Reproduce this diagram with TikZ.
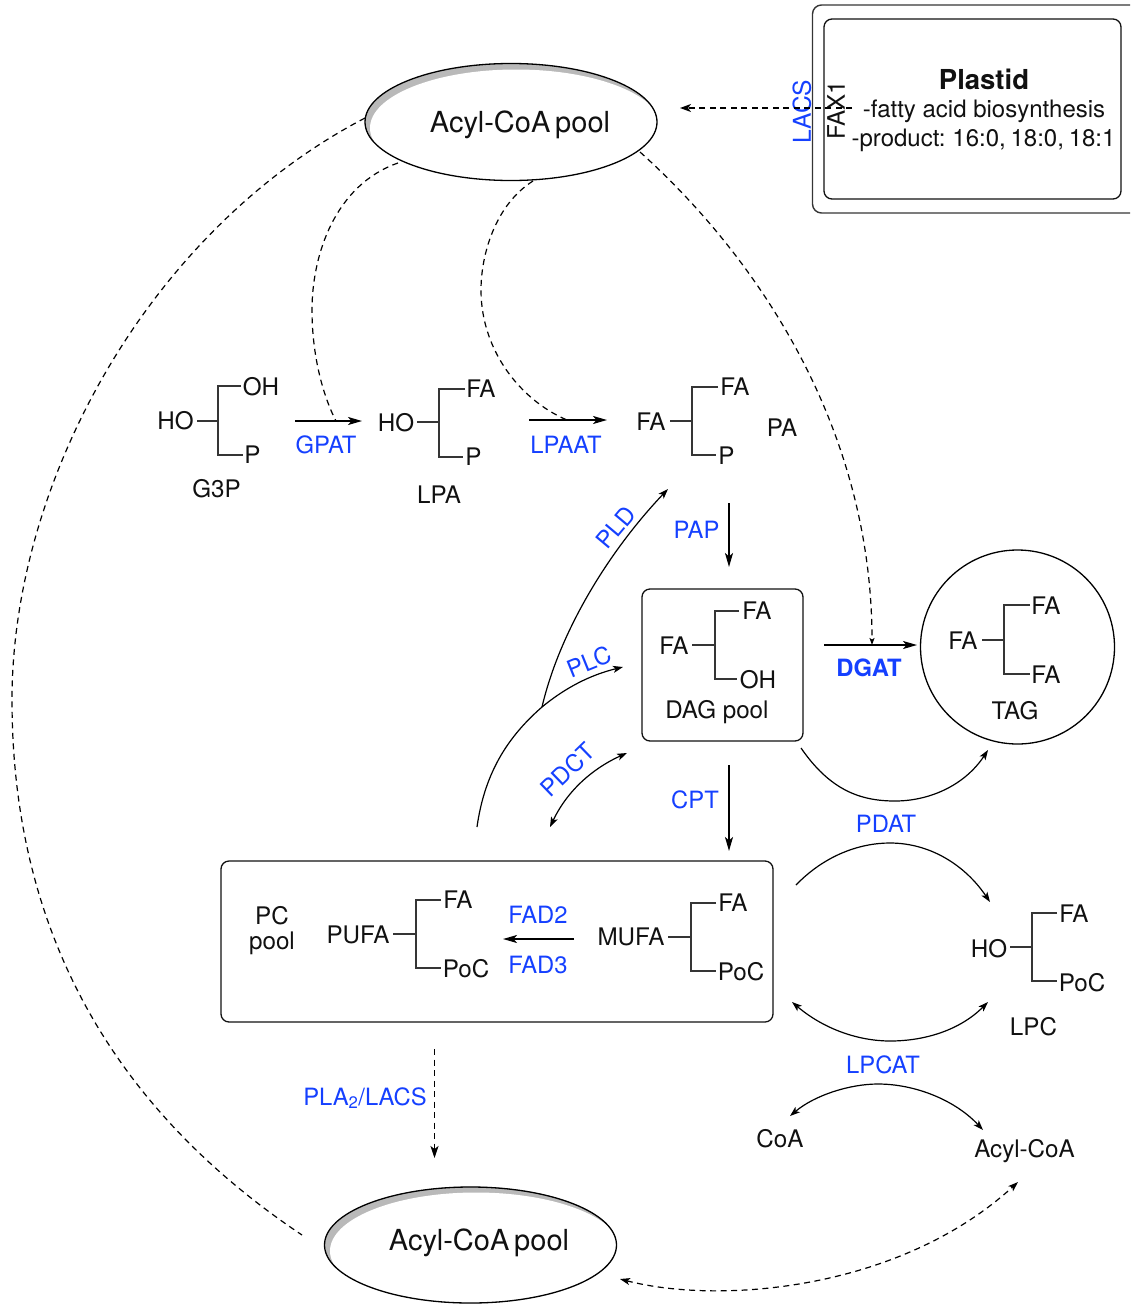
\documentclass[tikz,border=0pt]{standalone}
\usepackage{fontspec}
\setmainfont{TeX Gyre Heros}
\usetikzlibrary{arrows.meta,shapes.geometric}
\definecolor{enz}{HTML}{1540FF}
\definecolor{ink}{HTML}{111111}
\tikzset{
  txt/.style={inner sep=0pt,text=ink,font=\fontsize{24.2}{26}\selectfont,align=center},
  enzy/.style={inner sep=0pt,text=enz,font=\fontsize{23.8}{26}\selectfont},
  pooltxt/.style={inner sep=0pt,text=ink,font=\fontsize{29}{32}\selectfont},
  bond/.style={line width=1.2pt,draw=ink!85!white,line join=miter},
  thick arrow/.style={line width=1.9pt,draw=black,-{Stealth[length=14pt,width=8pt,inset=3.5pt]}},
  thin arrow/.style={line width=1.2pt,draw=black,-{Stealth[length=10pt,width=7pt,inset=2.5pt]}},
  both arrow/.style={line width=1.2pt,draw=black,{Stealth[length=10pt,width=7pt,inset=2.5pt]}-{Stealth[length=10pt,width=7pt,inset=2.5pt]}},
  dash line/.style={line width=1.2pt,draw=black,dash pattern=on 6pt off 4.5pt},
  box/.style={draw=ink,line width=1.3pt,rounded corners=8pt,inner sep=0pt},
}
\newcommand{\fork}[8]{%
  \coordinate (#1) at (#2,#5);
  \draw[bond] (#7,#3) -- (#2,#3) -- (#2,#4) -- (#8,#4);
  \draw[bond] (#6,#5) -- (#1);
}
\newcommand{\pool}[2]{%
  \begin{scope}
    \clip (#1,#2) ellipse [x radius=146, y radius=58.5];
    \fill[gray!55!white] (#1,#2) ellipse [x radius=146, y radius=58.5];
    \fill[white] (#1+5,#2+6) ellipse [x radius=146, y radius=58.5];
  \end{scope}
}
\begin{document}
\begin{tikzpicture}[x=1pt,y=-1pt]
\useasboundingbox (0,0) rectangle (1130,1304);

% plastid
\draw[line width=1.4pt,draw=ink!85!white,rounded corners=9pt] (1130,5) -- (812.5,5) -- (812.5,213) -- (1130,213);
\node[box,minimum width=297pt,minimum height=180pt] (plastidbox) at (972.5,109) {};
\node[pooltxt,font=\bfseries\fontsize{27.5}{32}\selectfont] (plastid) at (984,79.5) {Plastid};
\node[txt,font=\fontsize{24}{28}\selectfont] (fab) at (984,111) {-fatty acid biosynthesis};
\node[txt,font=\fontsize{24}{28}\selectfont] (prod) at (983.5,140) {\spaceskip=0.2em\relax -product: 16:0, 18:0, 18:1};
\node[enzy,rotate=90,font=\fontsize{24.6}{26}\selectfont] (lacs) at (802,111.5) {LACS};
\node[txt,rotate=90] (fax) at (836,110) {FAX1};

% pools
\pool{511}{122}
\pool{471}{1245}
\node[ellipse,draw=black,line width=1.3pt,minimum width=292pt,minimum height=117pt,inner sep=0pt] (poolA) at (511,122) {};
\node[pooltxt] (poolAt) at (520,125) {\spaceskip=0.17em\relax Acyl-CoA pool};
\node[ellipse,draw=black,line width=1.3pt,minimum width=292pt,minimum height=116pt,inner sep=0pt] (poolB) at (470.5,1245) {};
\node[pooltxt] (poolBt) at (479,1243) {\spaceskip=0.17em\relax Acyl-CoA pool};

% molecules
\fork{g3p}{218}{386}{455}{421}{197}{241}{243}
\node[txt] (g1) at (175.5,421) {HO};
\node[txt] (g2) at (261,387) {OH};
\node[txt] (g3) at (252.5,455) {P};
\node[txt] (g3pl) at (216.5,489) {G3P};

\fork{lpa}{439}{389}{457}{422}{417}{465}{463}
\node[txt] (l1) at (396,423) {HO};
\node[txt] (l2) at (481,389) {FA};
\node[txt] (l3) at (473.5,457) {P};
\node[txt] (lpal) at (439,495) {LPA};

\fork{pa}{692}{387}{455}{421}{670}{718}{716}
\node[txt] (p1) at (651,422) {FA};
\node[txt] (p2) at (735,387) {FA};
\node[txt] (p3) at (726.5,456) {P};
\node[txt] (pal) at (782,427.5) {PA};

\node[box,minimum width=161pt,minimum height=152pt] (dagbox) at (722.5,665) {};
\fork{dag}{715}{611}{679}{645}{692}{739}{737}
\node[txt] (d1) at (674,646) {FA};
\node[txt] (d2) at (757,611) {FA};
\node[txt] (d3) at (758,680) {OH};
\node[txt] (dagl) at (717,712) {DAG pool};

\node[circle,draw=black,line width=1.3pt,minimum size=194pt,inner sep=0pt] (tagc) at (1017.5,647) {};
\fork{tag}{1004}{605}{674}{640}{982}{1030}{1030}
\node[txt] (t1) at (963,641) {FA};
\node[txt] (t2) at (1046,606) {FA};
\node[txt] (t3) at (1046,675) {FA};
\node[txt] (tagl) at (1015,711) {TAG};

\node[box,minimum width=552pt,minimum height=161pt] (pcbox) at (497,941.5) {};
\node[txt] (pcl) at (272,931) {PC\\[-1pt]pool};
\fork{pufa}{416}{900}{968}{934}{393}{441}{441}
\node[txt] (u1) at (358,935) {PUFA};
\node[txt] (u2) at (458,900) {FA};
\node[txt] (u3) at (466,969) {PoC};
\fork{mufa}{691}{903}{971}{937}{668}{716}{716}
\node[txt] (m1) at (631,937) {MUFA};
\node[txt] (m2) at (733,903) {FA};
\node[txt] (m3) at (741,972) {PoC};

\fork{lpc}{1032}{913}{981}{947}{1010}{1057}{1057}
\node[txt] (c1) at (989,949) {HO};
\node[txt] (c2) at (1074,914) {FA};
\node[txt] (c3) at (1082,983) {PoC};
\node[txt] (lpcl) at (1033.5,1027) {LPC};
\node[txt] (coa) at (780,1139) {CoA};
\node[txt] (acyl) at (1024.5,1151) {Acyl-CoA};

% enzyme labels
\node[enzy] (gpat) at (326,444.5) {GPAT};
\node[enzy] (lpaat) at (566,444.5) {LPAAT};
\node[enzy] (pap) at (696.5,530) {PAP};
\node[enzy,rotate=50] (pld) at (616,527) {PLD};
\node[enzy,rotate=22] (plc) at (589,662) {PLC};
\node[enzy,rotate=44] (pdct) at (567.5,770) {PDCT};
\node[enzy] (cpt) at (695,800) {CPT};
\node[enzy,font=\bfseries\fontsize{23.8}{26}\selectfont] (dgat) at (869,668) {DGAT};
\node[enzy] (pdat) at (886,823.5) {PDAT};
\node[enzy] (lpcat) at (883,1065) {LPCAT};
\node[enzy] (fad2) at (538,915) {FAD2};
\node[enzy] (fad3) at (538,965) {FAD3};
\node[enzy] (pla) at (365,1098) {PLA\textsubscript{2}/LACS};

% connector ends
\coordinate (a1) at (295,421); \coordinate (a2) at (362,421);
\coordinate (b1) at (529,420); \coordinate (b2) at (607,420);
\coordinate (c3a) at (729,503); \coordinate (c3b) at (729,567);
\coordinate (e1) at (824,645); \coordinate (e2) at (917,645);
\coordinate (f1) at (729,765); \coordinate (f2) at (729,851);
\coordinate (h1) at (574,939); \coordinate (h2) at (503,939);
\coordinate (i1) at (852,108); \coordinate (i2) at (680,108);
\coordinate (j1) at (434.5,1049); \coordinate (j2) at (434.5,1158);
\coordinate (k1) at (365,118); \coordinate (k2) at (302,1235);
\coordinate (n1) at (398,163); \coordinate (n2) at (336,421);
\coordinate (o1) at (533,181); \coordinate (o2) at (567,420);
\coordinate (q1) at (640,152); \coordinate (q2) at (872,645);
\coordinate (r1) at (477,827); \coordinate (r2) at (542,707); \coordinate (r3) at (623,667); \coordinate (r4) at (668,489);
\coordinate (s1) at (550,827); \coordinate (s2) at (627,753);
\coordinate (v1) at (801,748); \coordinate (v2) at (988,750);
\coordinate (w1) at (796,885); \coordinate (w2) at (990,902);
\coordinate (y1) at (792,1002); \coordinate (y2) at (988,1002);
\coordinate (z1) at (790,1116); \coordinate (z2) at (983,1130);
\coordinate (x1) at (620,1279); \coordinate (x2) at (1018,1182);

% straight arrows
\draw[thick arrow] (a1) -- (a2);
\draw[thick arrow] (b1) -- (b2);
\draw[thick arrow] (c3a) -- (c3b);
\draw[thick arrow] (e1) -- (e2);
\draw[thick arrow] (f1) -- (f2);
\draw[thick arrow] (h1) -- (h2);

% dashed
\draw[dash line,-{Stealth[length=11pt,width=8pt,inset=3pt]}] (i1) -- (i2);
\draw[dash line,-{Stealth[length=12pt,width=8pt,inset=3pt]}] (j1) -- (j2);
\draw[dash line] (k1) .. controls (150,230) and (12,480) .. (12,700) .. controls (12,950) and (130,1120) .. (k2);
\draw[dash line] (n1) .. controls (335,185) and (312,255) .. (312,310) .. controls (312,360) and (325,400) .. (n2);
\draw[dash line] (o1) .. controls (495,205) and (481,255) .. (481,290) .. controls (481,350) and (520,400) .. (o2);
\draw[dash line,-{Stealth[length=7pt,width=5pt,inset=1.5pt]}] (q1) .. controls (760,260) and (872,430) .. (q2);
\draw[dash line,{Stealth[length=10pt,width=7pt,inset=2.5pt]}-{Stealth[length=10pt,width=7pt,inset=2.5pt]}] (x1) .. controls (720,1305) and (900,1290) .. (x2);

% curves
\draw[thin arrow] (r1) .. controls (485,770) and (510,735) .. (r2) .. controls (565,688) and (590,675) .. (r3);
\draw[thin arrow] (r2) .. controls (560,630) and (610,550) .. (r4);
\draw[both arrow] (s1) .. controls (570,785) and (600,765) .. (s2);
\draw[thin arrow] (v1) .. controls (830,790) and (860,801) .. (895,801) .. controls (930,801) and (965,785) .. (v2);
\draw[thin arrow] (w1) .. controls (825,855) and (860,843) .. (890,843) .. controls (930,843) and (965,865) .. (w2);
\draw[both arrow] (y1) .. controls (825,1030) and (860,1041) .. (890,1041) .. controls (925,1041) and (960,1030) .. (y2);
\draw[both arrow] (z1) .. controls (815,1095) and (850,1084) .. (878,1084) .. controls (915,1084) and (955,1100) .. (z2);
\end{tikzpicture}
\end{document}
